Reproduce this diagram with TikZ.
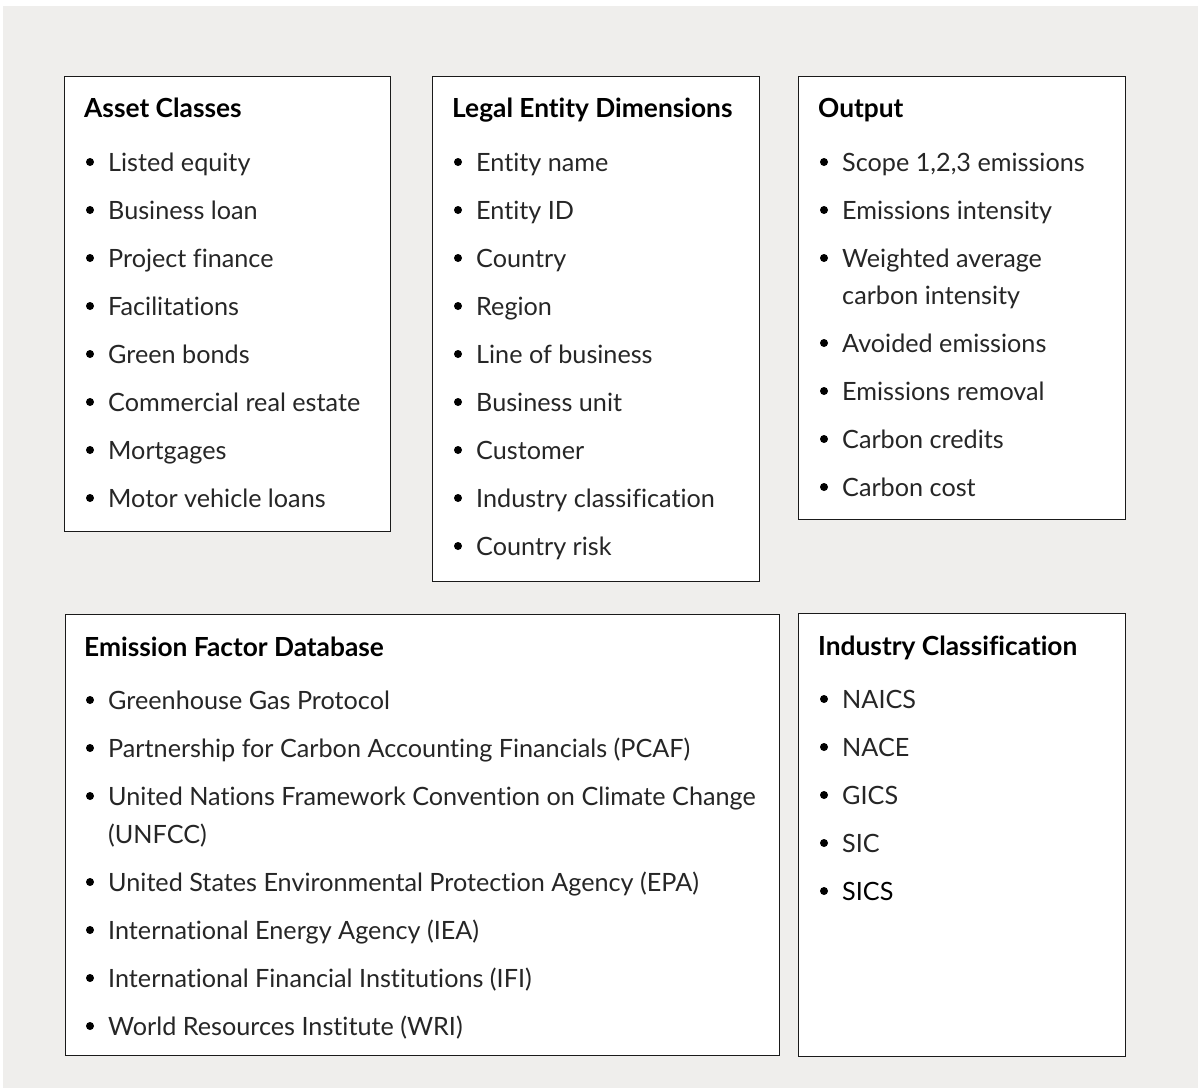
\documentclass[tikz,border=0pt]{standalone}
\usepackage{fontspec}
\setmainfont{Lato}[RawFeature={-liga}]
\definecolor{bggray}{HTML}{EFEEEC}
\definecolor{txt}{HTML}{262626}
\definecolor{boxline}{HTML}{1A1A1A}
\begin{document}
\begin{tikzpicture}[x=1pt,y=-1pt,
  panel/.style={draw=boxline,line width=1.3pt,fill=white,inner sep=0pt,anchor=north west},
  ttl/.style={anchor=base west,inner sep=0pt,font=\fontsize{26.3}{30}\selectfont\bfseries,text=black},
  itm/.style={anchor=base west,inner sep=0pt,font=\fontsize{25.2}{30}\selectfont,text=txt},
  dot/.style={circle,fill=black,inner sep=0pt,minimum size=8pt}]
\fill[white] (0,0) rectangle (1198,1088);
\fill[bggray] (3,6) rectangle (1198,1088);
\useasboundingbox (0,0) rectangle (1198,1088);
\newcommand\bul[4]{% name, x(bullet), y(center), text
  \node[dot] (#1d) at (#2,#3) {};
  \node[itm] (#1) at (#2+18,#3+9) {#4};}
% Boxes
\node[panel,minimum width=326pt,minimum height=455pt] (b1) at (64,76) {};
\node[panel,minimum width=327pt,minimum height=505pt] (b2) at (432,76) {};
\node[panel,minimum width=327pt,minimum height=443pt] (b3) at (798,76) {};
\node[panel,minimum width=714pt,minimum height=441pt] (b4) at (65,614) {};
\node[panel,minimum width=327pt,minimum height=443pt] (b5) at (798,613) {};
% Box 1
\node[ttl] (t1) at (84,117) {Asset Classes};
\bul{a1}{90}{162}{Listed equity}
\bul{a2}{90}{210}{Business loan}
\bul{a3}{90}{258}{Project finance}
\bul{a4}{90}{306}{Facilitations}
\bul{a5}{90}{354}{Green bonds}
\bul{a6}{90}{402}{Commercial real estate}
\bul{a7}{90}{450}{Mortgages}
\bul{a8}{90}{498}{Motor vehicle loans}
% Box 2
\node[ttl] (t2) at (452,117) {Legal Entity Dimensions};
\bul{l1}{458}{162}{Entity name}
\bul{l2}{458}{210}{Entity ID}
\bul{l3}{458}{258}{Country}
\bul{l4}{458}{306}{Region}
\bul{l5}{458}{354}{Line of business}
\bul{l6}{458}{402}{Business unit}
\bul{l7}{458}{450}{Customer}
\bul{l8}{458}{498}{Industry classification}
\bul{l9}{458}{546}{Country risk}
% Box 3
\node[ttl] (t3) at (818,117) {Output};
\bul{o1}{824}{162}{Scope 1,2,3 emissions}
\bul{o2}{824}{210}{Emissions intensity}
\bul{o3}{824}{258}{Weighted average}
\node[itm] (o3b) at (842,304) {carbon intensity};
\bul{o4}{824}{343}{Avoided emissions}
\bul{o5}{824}{391}{Emissions removal}
\bul{o6}{824}{439}{Carbon credits}
\bul{o7}{824}{487}{Carbon cost}
% Box 4
\node[ttl] (t4) at (84,656) {Emission Factor Database};
\bul{e1}{90}{700}{Greenhouse Gas Protocol}
\bul{e2}{90}{748}{Partnership for Carbon Accounting Financials (PCAF)}
\bul{e3}{90}{796}{United Nations Framework Convention on Climate Change}
\node[itm] (e3b) at (108,843) {(UNFCC)};
\bul{e4}{90}{882}{United States Environmental Protection Agency (EPA)}
\bul{e5}{90}{930}{International Energy Agency (IEA)}
\bul{e6}{90}{978}{International Financial Institutions (IFI)}
\bul{e7}{90}{1026}{World Resources Institute (WRI)}
% Box 5
\node[ttl] (t5) at (818,655) {Industry Classification};
\bul{i1}{824}{699}{NAICS}
\bul{i2}{824}{747}{NACE}
\bul{i3}{824}{795}{GICS}
\bul{i4}{824}{843}{SIC}
\node[dot] (i5d) at (824,891) {};
\node[itm,text=black] (i5) at (842,900) {SICS};
\end{tikzpicture}
\end{document}
